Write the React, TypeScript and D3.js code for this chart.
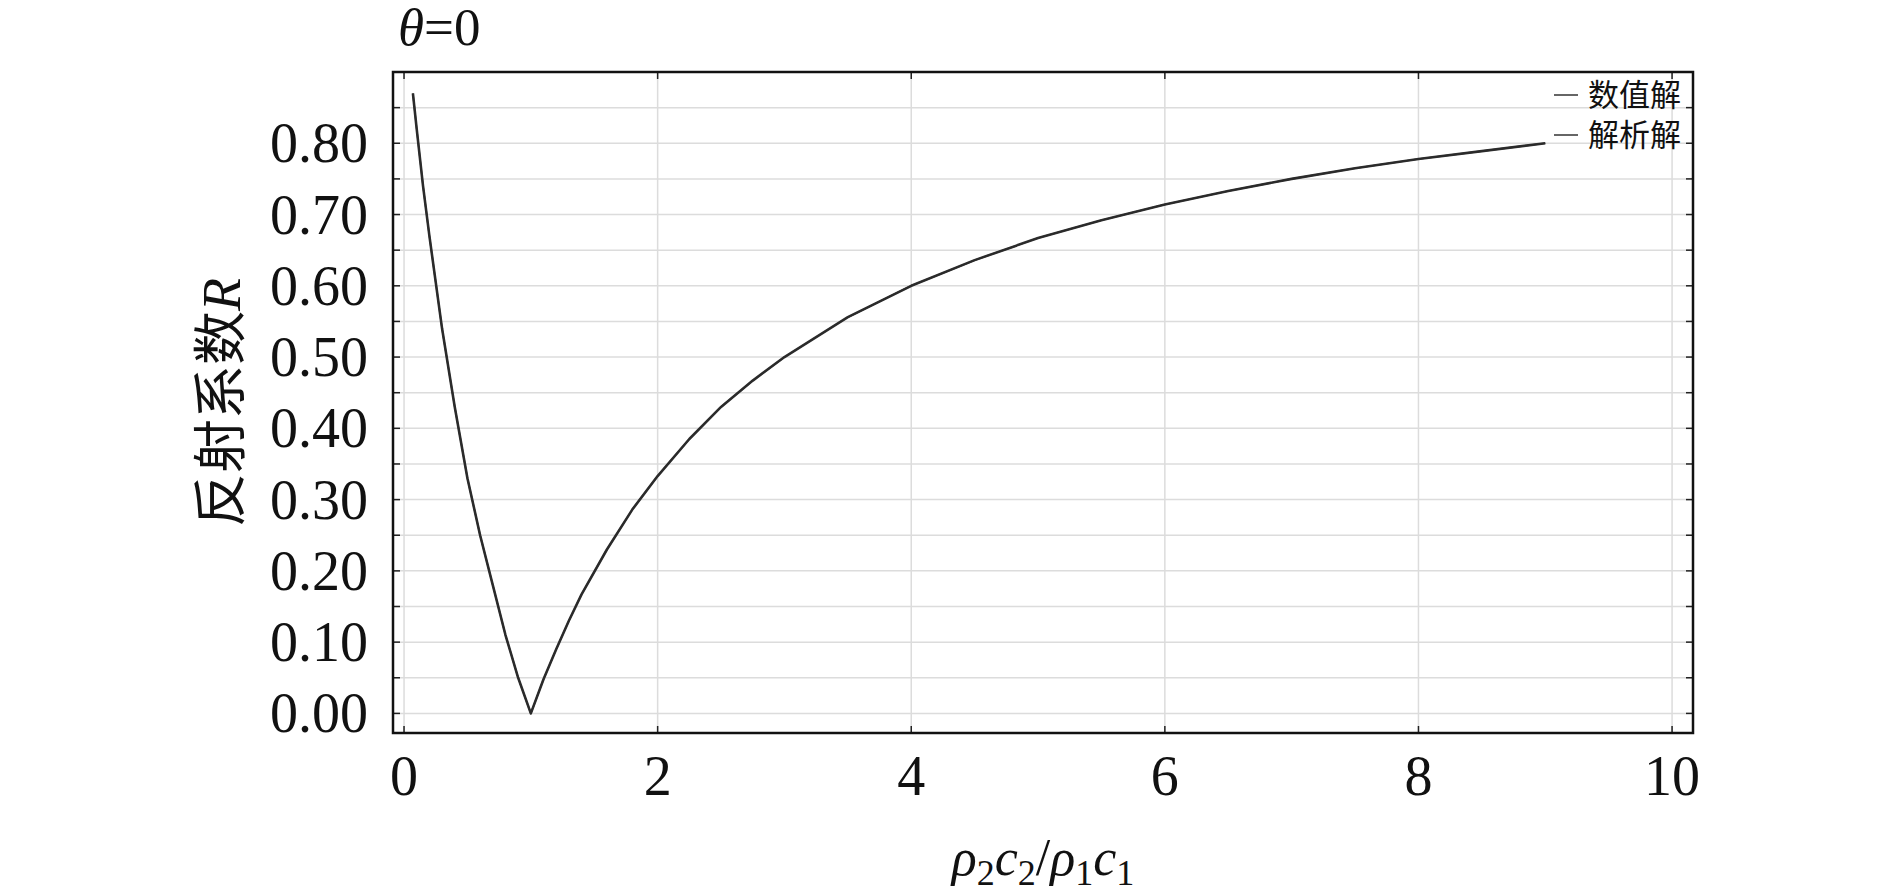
import React from "react";
import * as d3 from "d3";

const ratioX = [0.07, 0.1, 0.15, 0.2, 0.3, 0.4, 0.5, 0.6, 0.7, 0.8, 0.9, 1.0, 1.1, 1.2, 1.3, 1.4, 1.6, 1.8, 2.0, 2.25, 2.5, 2.75, 3.0, 3.5, 4.0, 4.5, 5.0, 5.5, 6.0, 6.5, 7.0, 7.5, 8.0, 8.5, 9.0];
const numericR = [0.87, 0.82, 0.74, 0.67, 0.54, 0.43, 0.33, 0.25, 0.18, 0.11, 0.05, 0.0, 0.048, 0.09, 0.13, 0.167, 0.23, 0.286, 0.333, 0.385, 0.43, 0.467, 0.5, 0.556, 0.6, 0.636, 0.667, 0.692, 0.714, 0.733, 0.75, 0.765, 0.778, 0.789, 0.8];
const analyticR = [0.87, 0.82, 0.74, 0.67, 0.54, 0.43, 0.33, 0.25, 0.18, 0.11, 0.05, 0.0, 0.048, 0.09, 0.13, 0.167, 0.23, 0.286, 0.333, 0.385, 0.43, 0.467, 0.5, 0.556, 0.6, 0.636, 0.667, 0.692, 0.714, 0.733, 0.75, 0.765, 0.778, 0.789, 0.8];
const xTicks = [0, 2, 4, 6, 8, 10];
const yTicks = [0, 0.1, 0.2, 0.3, 0.4, 0.5, 0.6, 0.7, 0.8];
const yGrid = [0, 0.05, 0.1, 0.15, 0.2, 0.25, 0.3, 0.35, 0.4, 0.45, 0.5, 0.55, 0.6, 0.65, 0.7, 0.75, 0.8, 0.85];
const legendLabels = ["数值解", "解析解"];

const L = 393, R = 1693, T = 72, B = 733;
const serif = "'Liberation Serif', 'Times New Roman', serif";
const cjk = "'Noto Sans CJK SC', sans-serif";

export default function App() {
  const x = d3.scaleLinear().domain([-0.087, 10.165]).range([L, R]);
  const y = d3.scaleLinear().domain([-0.0275, 0.9]).range([B, T]);
  const line = d3.line<number>().x((_, i) => x(ratioX[i])).y((d) => y(d)).curve(d3.curveLinear);
  const tick = 7;
  return (
    <svg width={1890} height={896} style={{ position: "absolute", left: 0, top: 0, background: "#fff" }}>
      {yGrid.map((v) => (
        <line key={"gy" + v} x1={L} x2={R} y1={y(v)} y2={y(v)} stroke="#dcdcdc" strokeWidth={1.5} />
      ))}
      {xTicks.map((v) => (
        <line key={"gx" + v} x1={x(v)} x2={x(v)} y1={T} y2={B} stroke="#dcdcdc" strokeWidth={1.5} />
      ))}
      {yGrid.map((v) => (
        <g key={"ty" + v}>
          <line x1={L} x2={L + tick} y1={y(v)} y2={y(v)} stroke="#222" strokeWidth={1.5} />
          <line x1={R - tick} x2={R} y1={y(v)} y2={y(v)} stroke="#222" strokeWidth={1.5} />
        </g>
      ))}
      {xTicks.map((v) => (
        <g key={"tx" + v}>
          <line x1={x(v)} x2={x(v)} y1={B - tick} y2={B} stroke="#222" strokeWidth={1.5} />
          <line x1={x(v)} x2={x(v)} y1={T} y2={T + tick} stroke="#222" strokeWidth={1.5} />
        </g>
      ))}
      <path d={line(analyticR) || ""} fill="none" stroke="#333" strokeWidth={2.6} strokeLinejoin="round" />
      <path d={line(numericR) || ""} fill="none" stroke="#2a2a2a" strokeWidth={1.6} strokeLinejoin="round" />
      <rect x={L} y={T} width={R - L} height={B - T} fill="none" stroke="#111" strokeWidth={2.5} />
      {yTicks.map((v) => (
        <text key={"yl" + v} x={368} y={y(v) + 19} textAnchor="end" fontFamily={serif} fontSize={56} fill="#111">
          {v.toFixed(2)}
        </text>
      ))}
      {xTicks.map((v) => (
        <text key={"xl" + v} x={x(v)} y={795} textAnchor="middle" fontFamily={serif} fontSize={56} fill="#111">
          {v}
        </text>
      ))}
      <text x={398} y={45} fontFamily={serif} fontSize={53} fill="#111">
        <tspan fontStyle="italic">θ</tspan>
        <tspan>=0</tspan>
      </text>
      <text x={(L + R) / 2} y={875} textAnchor="middle" fontFamily={serif} fontSize={52} fill="#111">
        <tspan fontStyle="italic">ρ</tspan>
        <tspan fontSize={36} dy={10}>2</tspan>
        <tspan fontStyle="italic" dy={-10}>c</tspan>
        <tspan fontSize={36} dy={10}>2</tspan>
        <tspan dy={-10}>/</tspan>
        <tspan fontStyle="italic">ρ</tspan>
        <tspan fontSize={36} dy={10}>1</tspan>
        <tspan fontStyle="italic" dy={-10}>c</tspan>
        <tspan fontSize={36} dy={10}>1</tspan>
      </text>
      <text transform={`translate(240, ${(T + B) / 2}) rotate(-90)`} textAnchor="middle" fontSize={54} fill="#111">
        <tspan fontFamily={cjk}>反射系数</tspan>
        <tspan fontFamily={serif} fontStyle="italic">R</tspan>
      </text>
      {legendLabels.map((lab, i) => (
        <g key={lab}>
          <line x1={1554} x2={1578} y1={95 + i * 40} y2={95 + i * 40} stroke="#333" strokeWidth={1.5} />
          <text x={1681} y={95 + i * 40 + 11} textAnchor="end" fontFamily={cjk} fontSize={31} fill="#111">
            {lab}
          </text>
        </g>
      ))}
    </svg>
  );
}
